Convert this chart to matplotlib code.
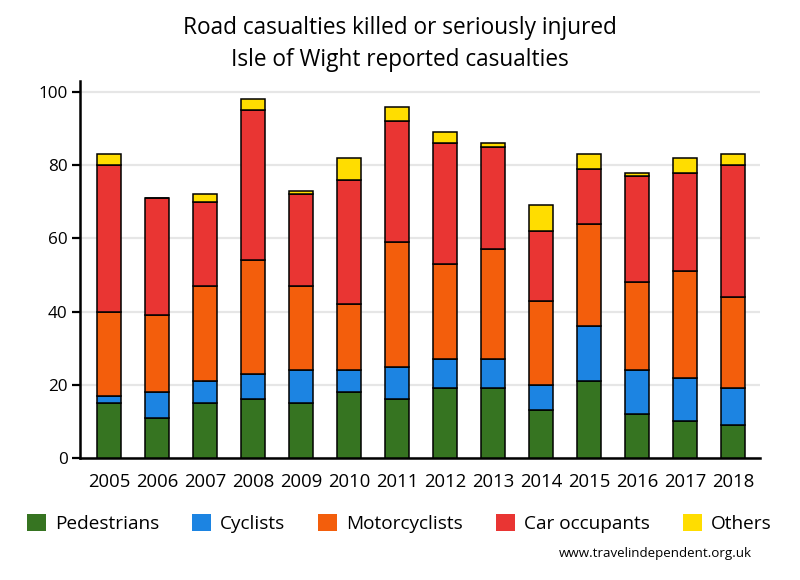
import matplotlib.pyplot as plt
import numpy as np

plt.rcParams['font.family'] = ['Open Sans', 'DejaVu Sans']

years = ['2005', '2006', '2007', '2008', '2009', '2010', '2011',
         '2012', '2013', '2014', '2015', '2016', '2017', '2018']
pedestrians = [15, 11, 15, 16, 15, 18, 16, 19, 19, 13, 21, 12, 10, 9]
cyclists = [2, 7, 6, 7, 9, 6, 9, 8, 8, 7, 15, 12, 12, 10]
motorcyclists = [23, 21, 26, 31, 23, 18, 34, 26, 30, 23, 28, 24, 29, 25]
car_occupants = [40, 32, 23, 41, 25, 34, 33, 33, 28, 19, 15, 29, 27, 36]
others = [3, 0, 2, 3, 1, 6, 4, 3, 1, 7, 4, 1, 4, 3]

series = [
    ('Pedestrians', pedestrians, '#367421'),
    ('Cyclists', cyclists, '#1c84e2'),
    ('Motorcyclists', motorcyclists, '#f35e0c'),
    ('Car occupants', car_occupants, '#e93533'),
    ('Others', others, '#ffdd00'),
]

fig = plt.figure(figsize=(8, 5.8), dpi=100)
ax = fig.add_axes([0.1, 0.2103, 0.85, 0.65])

x = np.arange(len(years))
bottom = np.zeros(len(years))
handles = []
for name, vals, col in series:
    vals = np.array(vals)
    b = ax.bar(x, vals, 0.5, bottom=bottom, color=col, edgecolor='black',
               linewidth=1.1, label=name, zorder=3)
    handles.append(b)
    bottom += vals

ax.set_xlim(-0.61, 13.56)
ax.set_ylim(0, 103)
ax.set_yticks([0, 20, 40, 60, 80, 100])
ax.set_xticks(x)
ax.set_xticklabels(years, fontsize=13.3)
ax.tick_params(axis='y', labelsize=12.3, length=6, width=1.6, direction='out', pad=3)
ax.tick_params(axis='x', length=0, pad=11)
ax.yaxis.grid(True, color='#e6e6e6', linewidth=1.6, zorder=0)
ax.set_axisbelow(True)
for s in ['top', 'right']:
    ax.spines[s].set_visible(False)
ax.spines['left'].set_linewidth(1.8)
ax.spines['bottom'].set_linewidth(1.8)

fig.text(0.5, 0.951, 'Road casualties killed or seriously injured',
         ha='center', va='center', fontsize=16.3)
fig.text(0.5, 0.896, 'Isle of Wight reported casualties',
         ha='center', va='center', fontsize=16.3)

leg = fig.legend(handles=[h.patches[0] for h in handles],
                 labels=[s[0] for s in series], loc='center',
                 bbox_to_anchor=(0.499, 0.097), ncol=5, frameon=False,
                 fontsize=13.7, handlelength=1.0, handleheight=1.0,
                 handletextpad=0.45, columnspacing=1.75)
for p in leg.get_patches():
    p.set_edgecolor('none')

fig.text(0.94, 0.046, 'www.travelindependent.org.uk', ha='right',
         va='center', fontsize=9.6)

fig.savefig('out.png', dpi=100)
